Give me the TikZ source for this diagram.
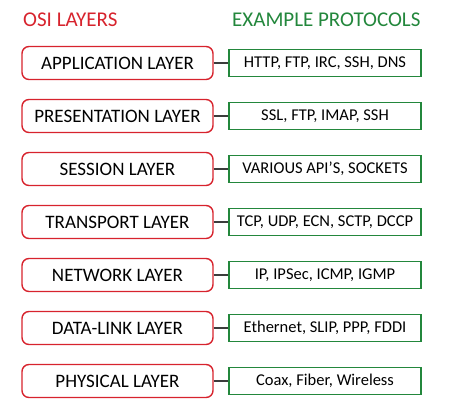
\documentclass[tikz,border=0pt]{standalone}
\usepackage{fontspec}
\setmainfont{Carlito}
\usetikzlibrary{positioning}
\definecolor{osired}{RGB}{215,35,45}
\definecolor{protogreen}{RGB}{35,135,60}
\definecolor{linkgray}{RGB}{60,60,60}

\begin{document}
\begin{tikzpicture}[x=1pt, y=-1pt,
    layer/.style={draw=osired, line width=1.4pt, rounded corners=7pt, minimum width=191pt, minimum height=33pt, inner sep=0pt, font=\fontsize{19}{22}\selectfont},
    proto/.style={draw=protogreen, line width=1.4pt, minimum width=192pt, minimum height=27pt, inner sep=0pt, font=\fontsize{16.5}{19}\selectfont},
    title/.style={anchor=west, inner sep=0pt, font=\fontsize{21}{24}\selectfont},
    link/.style={draw=linkgray, line width=1.2pt}
]
    \useasboundingbox (0,0) rectangle (474,407);

    \node[title, text=osired] (osititle) at (23,20) {OSI LAYERS};
    \node[title, text=protogreen] (prototitle) at (232,20) {EXAMPLE PROTOCOLS};

    \node[layer] (app) at (117.5,63) {APPLICATION LAYER};
    \node[layer] (pres) at (117.5,116) {PRESENTATION LAYER};
    \node[layer] (sess) at (117.5,169) {SESSION LAYER};
    \node[layer] (trans) at (117.5,222) {TRANSPORT LAYER};
    \node[layer] (net) at (117.5,275) {NETWORK LAYER};
    \node[layer] (dlink) at (117.5,328) {DATA-LINK LAYER};
    \node[layer] (phys) at (117.5,381) {PHYSICAL LAYER};

    \node[proto] (appp) at (325,63) {HTTP, FTP, IRC, SSH, DNS};
    \node[proto] (presp) at (325,116) {SSL, FTP, IMAP, SSH};
    \node[proto] (sessp) at (325,169) {VARIOUS API'S, SOCKETS};
    \node[proto] (transp) at (325,222) {TCP, UDP, ECN, SCTP, DCCP};
    \node[proto] (netp) at (325,275) {IP, IPSec, ICMP, IGMP};
    \node[proto] (dlinkp) at (325,328) {Ethernet, SLIP, PPP, FDDI};
    \node[proto] (physp) at (325,381) {Coax, Fiber, Wireless};

    \draw[link] (app) -- (appp);
    \draw[link] (pres) -- (presp);
    \draw[link] (sess) -- (sessp);
    \draw[link] (trans) -- (transp);
    \draw[link] (net) -- (netp);
    \draw[link] (dlink) -- (dlinkp);
    \draw[link] (phys) -- (physp);
\end{tikzpicture}
\end{document}
